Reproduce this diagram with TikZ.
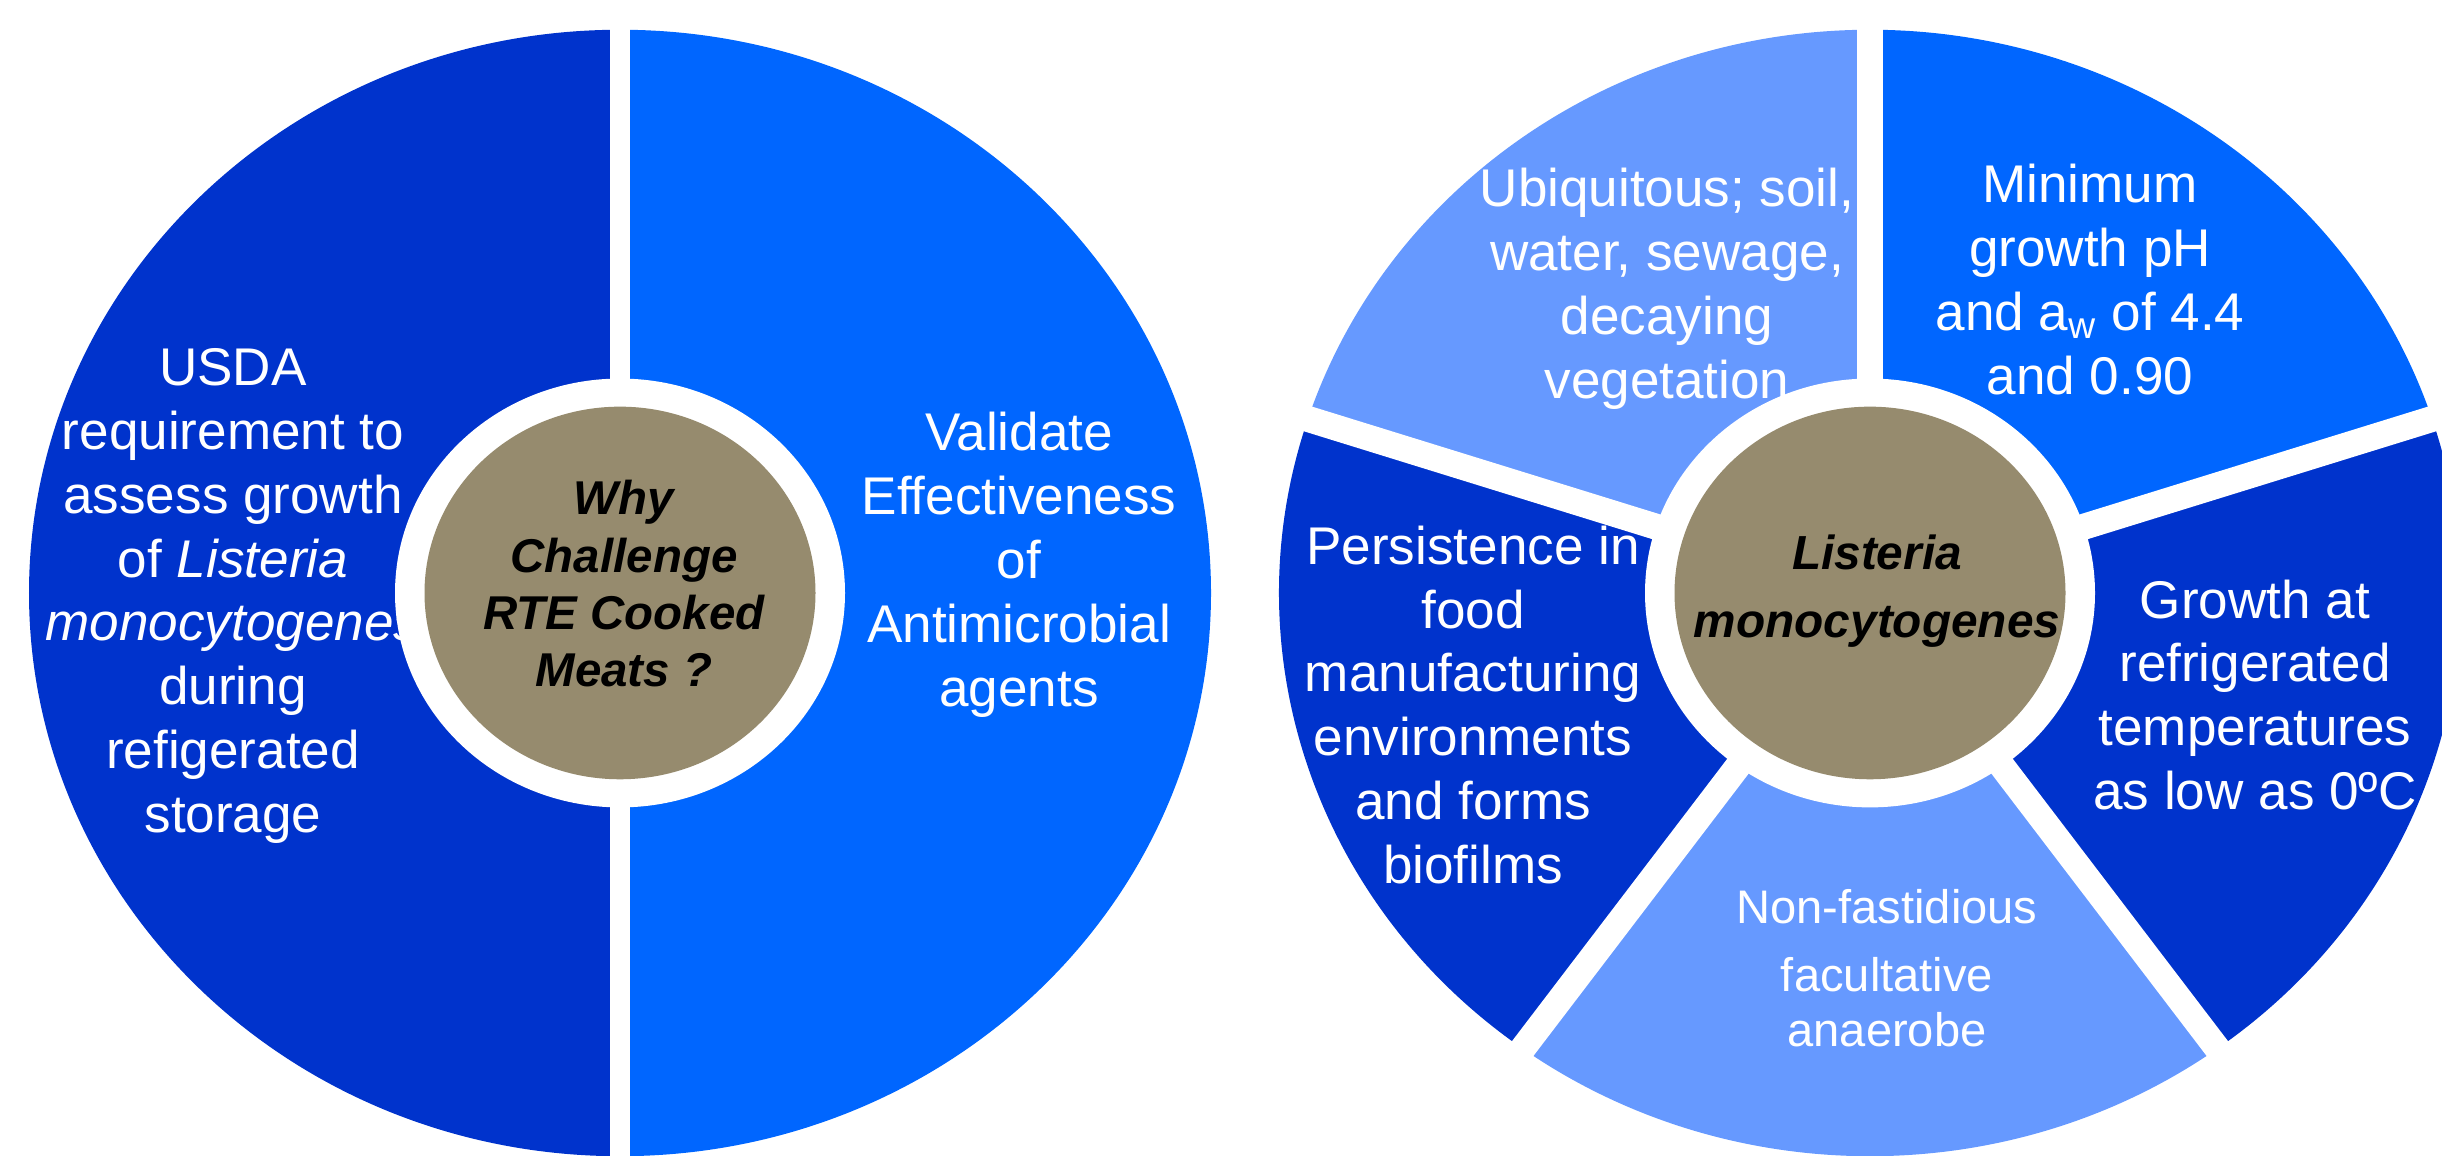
\documentclass[tikz,border=0pt]{standalone}
\usepackage{fontspec}
\setmainfont{Liberation Sans}
\definecolor{navy}{RGB}{0,51,204}
\definecolor{royal}{RGB}{0,102,255}
\definecolor{sky}{RGB}{102,153,255}
\definecolor{meat}{RGB}{150,139,110}
\tikzset{
  seg/.style={text=white, align=center, inner sep=0pt, font=\fontsize{15.1}{18.2}\selectfont},
  hub/.style={text=black, align=center, inner sep=0pt, font=\fontsize{13.5}{16.3}\selectfont\bfseries\itshape},
  gapL/.style={white, line width=2mm},
  gapR/.style={white, line width=2.6mm}
}
\begin{document}
\begin{tikzpicture}[line join=round]
\def\R{5.91} \def\sq{0.953}
\def\rring{2.25} \def\rmeat{1.955}
\clip (0,0) rectangle (24.42,11.56);
\coordinate (cL) at (6.20,5.63);
\coordinate (cR) at (18.70,5.63);
% left wheel: two halves
\begin{scope}[shift={(cL)}, yscale=\sq]
\fill[navy] (0,0) -- (90:\R) arc[start angle=90, delta angle=180, radius=\R] -- cycle;
\fill[royal] (0,0) -- (-90:\R) arc[start angle=-90, delta angle=180, radius=\R] -- cycle;
\draw[gapL] (0,-6.3) -- (0,6.3);
\end{scope}
% right wheel: five slices
\begin{scope}[shift={(cR)}, yscale=\sq]
\foreach \a/\c in {90/sky,18/royal,-54/navy,-126/sky,162/navy}
  \fill[\c] (0,0) -- (\a:\R) arc[start angle=\a, delta angle=72, radius=\R] -- cycle;
\foreach \a in {90,18,-54,-126,162}
  \draw[gapR] (0,0) -- (\a:6.5);
\end{scope}
% slice texts
\node[seg] (usda) at (2.33,5.60) {USDA\\requirement to\\assess growth\\of \textit{Listeria}\\\textit{monocytogenes}\\during\\refigerated\\storage};
\node[seg] (valid) at (10.19,5.915) {Validate\\Effectiveness\\of\\Antimicrobial\\agents};
\node[seg] (ubiq) at (16.67,8.675) {Ubiquitous; soil,\\water, sewage,\\decaying\\vegetation};
\node[seg] (minph) at (20.90,8.76) {Minimum\\growth pH\\and a\textsubscript{w} of 4.4\\and 0.90};
\node[seg] (persist) at (14.73,4.51) {Persistence in\\food\\manufacturing\\environments\\and forms\\biofilms};
\node[seg] (cold) at (22.55,4.61) {Growth at\\refrigerated\\temperatures\\as low as 0ºC};
\node[seg, font=\fontsize{13.4}{15.6}\selectfont] (anaer) at (18.87,1.875) {Non-fastidious\\[3.7pt]facultative\\anaerobe};
% hubs
\begin{scope}[shift={(cL)}, yscale=\sq]
\fill[white] (0,0) circle[radius=\rring];
\fill[meat] (0,0) circle[radius=\rmeat];
\end{scope}
\begin{scope}[shift={(cR)}, yscale=\sq]
\fill[white] (0,0) circle[radius=\rring];
\fill[meat] (0,0) circle[radius=\rmeat];
\end{scope}
\node[hub] (why) at (6.24,5.72) {Why\\Challenge\\RTE Cooked\\Meats ?};
\node[hub, font=\fontsize{13.6}{19.4}\selectfont\bfseries\itshape] (lm) at (18.77,5.65) {Listeria\\monocytogenes};
\end{tikzpicture}
\end{document}
